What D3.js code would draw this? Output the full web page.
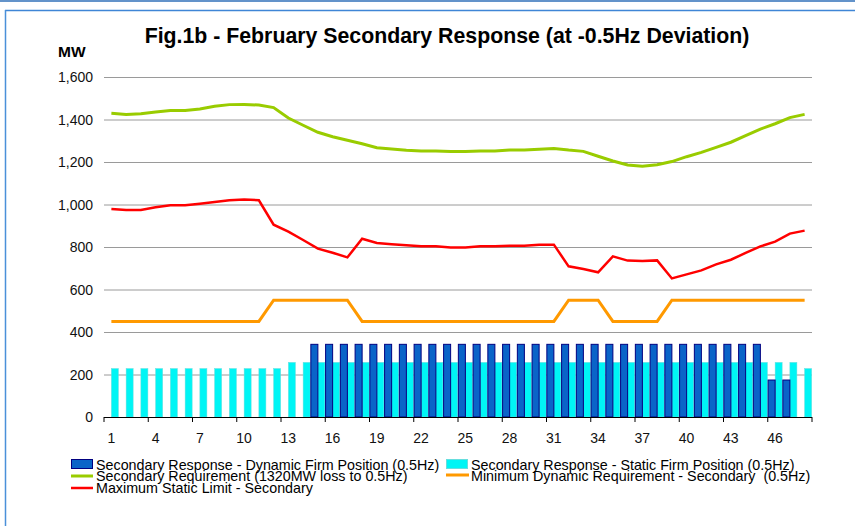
<!DOCTYPE html>
<html>
<head>
<meta charset="utf-8">
<script src="https://cdn.jsdelivr.net/npm/d3@7"></script>
<style>
body { margin: 0; background: #fff; }
text { font-family: "Liberation Sans", Arial, sans-serif; }
</style>
</head>
<body>
<div id="chart"></div>
<script>
// settlement periods 1..48
var periods = d3.range(1, 49);
var tickLabels = [1, 4, 7, 10, 13, 16, 19, 22, 25, 28, 31, 34, 37, 40, 43, 46];
var yTicks = [0, 200, 400, 600, 800, 1000, 1200, 1400, 1600];

// bars
var dynamicFirm = [0,0,0,0,0,0,0,0,0,0,0,0,0,0,
	342,342,342,342,342,342,342,342,342,342,342,342,342,342,342,342,
	342,342,342,342,342,342,342,342,342,342,342,342,342,342,342,
	174,174,0];
var staticFirm = [228,228,228,228,228,228,228,228,228,228,228,228,
	257,257,257,257,257,257,257,257,257,257,257,257,257,257,257,257,257,257,
	257,257,257,257,257,257,257,257,257,257,257,257,257,257,257,257,257,
	228];

// lines
var secRequirement = [1429,1424,1427,1435,1442,1442,1449,1462,1470,1471,1468,1456,
	1407,1373,1340,1319,1302,1286,1267,1261,1255,1252,1252,1249,1249,1252,1252,
	1256,1256,1260,1264,1256,1250,1227,1205,1186,1180,1187,1202,1225,1245,1269,
	1293,1324,1355,1380,1409,1424];
var maxStatic = [979,974,974,987,996,996,1004,1012,1020,1024,1020,905,872,833,
	792,773,751,839,819,813,808,803,803,798,798,803,803,806,806,811,811,709,696,
	681,756,736,734,737,652,671,690,718,740,772,803,825,863,877];
var minDynamic = [450,450,450,450,450,450,450,450,450,450,450,550,550,550,550,550,550,
	450,450,450,450,450,450,450,450,450,450,450,450,450,450,550,550,550,
	450,450,450,450,550,550,550,550,550,550,550,550,550,550];

var W = 855, H = 526;
var svg = d3.select("#chart").append("svg")
	.attr("width", W).attr("height", H);

// frame
svg.append("line").attr("x1", 0).attr("x2", W).attr("y1", 1).attr("y2", 1)
	.style("stroke", "#2f6fb8").style("stroke-width", 1.5);
svg.append("line").attr("x1", 5).attr("x2", W).attr("y1", 10.5).attr("y2", 10.5)
	.style("stroke", "#3f86d6").style("stroke-width", 1.5);
svg.append("line").attr("x1", 5.5).attr("x2", 5.5).attr("y1", 10).attr("y2", H)
	.style("stroke", "#4a90d9").style("stroke-width", 1.5);

var plotLeft = 104, plotRight = 812, plotTop = 77, plotBottom = 417;

var x = d3.scaleBand().domain(periods).range([plotLeft, plotRight]).padding(0);
var xs = d3.scaleBand().domain(["dyn", "stat"]).range([0, x.bandwidth()])
	.paddingInner(0).paddingOuter(0.05);
var y = d3.scaleLinear().domain([0, 1600]).range([plotBottom, plotTop]);

// title
svg.append("text").attr("x", 447).attr("y", 43)
	.attr("text-anchor", "middle").style("font-size", "21.3px").style("font-weight", "bold")
	.text("Fig.1b - February Secondary Response (at -0.5Hz Deviation)");
svg.append("text").attr("x", 58).attr("y", 57)
	.style("font-size", "15.5px").style("font-weight", "bold").text("MW");

// grid
svg.append("g").selectAll("line").data(yTicks.filter(function(d){ return d > 0; }))
	.enter().append("line")
	.attr("x1", plotLeft).attr("x2", plotRight)
	.attr("y1", function(d){ return y(d) + 0.5; }).attr("y2", function(d){ return y(d) + 0.5; })
	.style("stroke", "#9a9a9a").style("stroke-width", 1);

// y labels
svg.append("g").selectAll("text").data(yTicks).enter().append("text")
	.attr("x", 93).attr("y", function(d){ return y(d) + 5; })
	.attr("text-anchor", "end").style("font-size", "14px").style("fill", "#111")
	.text(d3.format(","));

// bars
var bars = svg.append("g");
bars.selectAll(".stat").data(periods).enter().append("rect")
	.attr("x", function(d){ return x(d) + xs("stat"); })
	.attr("width", xs.bandwidth())
	.attr("y", function(d, i){ return y(staticFirm[i]); })
	.attr("height", function(d, i){ return plotBottom - y(staticFirm[i]); })
	.style("fill", "#00f5f5").style("stroke", "#66dede").style("stroke-width", 0.5);
bars.selectAll(".dyn").data(periods.filter(function(d, i){ return dynamicFirm[i] > 0; }))
	.enter().append("rect")
	.attr("x", function(d){ return x(d) + xs("dyn"); })
	.attr("width", xs.bandwidth())
	.attr("y", function(d){ return y(dynamicFirm[d - 1]); })
	.attr("height", function(d){ return plotBottom - y(dynamicFirm[d - 1]); })
	.style("fill", "#0a64c8").style("stroke", "#000080").style("stroke-width", 1);

// x axis
svg.append("line").attr("x1", plotLeft).attr("x2", plotRight)
	.attr("y1", plotBottom + 0.5).attr("y2", plotBottom + 0.5)
	.style("stroke", "#000").style("stroke-width", 1);
svg.append("g").selectAll("line").data(tickLabels.concat([49])).enter().append("line")
	.attr("x1", function(d){ return d > 48 ? plotRight : x(d); })
	.attr("x2", function(d){ return d > 48 ? plotRight : x(d); })
	.attr("y1", plotBottom).attr("y2", plotBottom + 5)
	.style("stroke", "#000");
svg.append("g").selectAll("text").data(tickLabels).enter().append("text")
	.attr("x", function(d){ return x(d) + x.bandwidth() / 2; })
	.attr("y", 443).attr("text-anchor", "middle")
	.style("font-size", "14px").style("fill", "#111")
	.text(function(d){ return d; });

// lines
var line = function(vals){
	return d3.line()
		.x(function(d){ return x(d) + x.bandwidth() / 2; })
		.y(function(d){ return y(vals[d - 1]); })(periods);
};
svg.append("path").attr("d", line(minDynamic))
	.style("fill", "none").style("stroke", "#ff9900").style("stroke-width", 3);
svg.append("path").attr("d", line(maxStatic))
	.style("fill", "none").style("stroke", "#ff0000").style("stroke-width", 2.5);
svg.append("path").attr("d", line(secRequirement))
	.style("fill", "none").style("stroke", "#99cc00").style("stroke-width", 3);

// legend
var lg = svg.append("g").style("font-size", "14.3px");
lg.append("rect").attr("x", 71.5).attr("y", 459.5).attr("width", 21).attr("height", 9)
	.style("fill", "#0a64c8").style("stroke", "#000080");
lg.append("text").attr("x", 96).attr("y", 470).text("Secondary Response - Dynamic Firm Position (0.5Hz)");
lg.append("line").attr("x1", 71).attr("x2", 93).attr("y1", 476).attr("y2", 476)
	.style("stroke", "#99cc00").style("stroke-width", 3);
lg.append("text").attr("x", 96).attr("y", 481).text("Secondary Requirement (1320MW loss to 0.5Hz)");
lg.append("line").attr("x1", 71).attr("x2", 93).attr("y1", 488).attr("y2", 488)
	.style("stroke", "#ff0000").style("stroke-width", 2.5);
lg.append("text").attr("x", 96).attr("y", 493).text("Maximum Static Limit - Secondary");
lg.append("rect").attr("x", 446.5).attr("y", 459.5).attr("width", 21).attr("height", 9)
	.style("fill", "#00f5f5").style("stroke", "#66dede");
lg.append("text").attr("x", 471).attr("y", 470).text("Secondary Response - Static Firm Position (0.5Hz)");
lg.append("line").attr("x1", 446).attr("x2", 469).attr("y1", 475).attr("y2", 475)
	.style("stroke", "#ff9900").style("stroke-width", 3);
lg.append("text").attr("x", 471).attr("y", 481).text("Minimum Dynamic Requirement - Secondary  (0.5Hz)")
	.style("white-space", "pre");
</script>
</body>
</html>
